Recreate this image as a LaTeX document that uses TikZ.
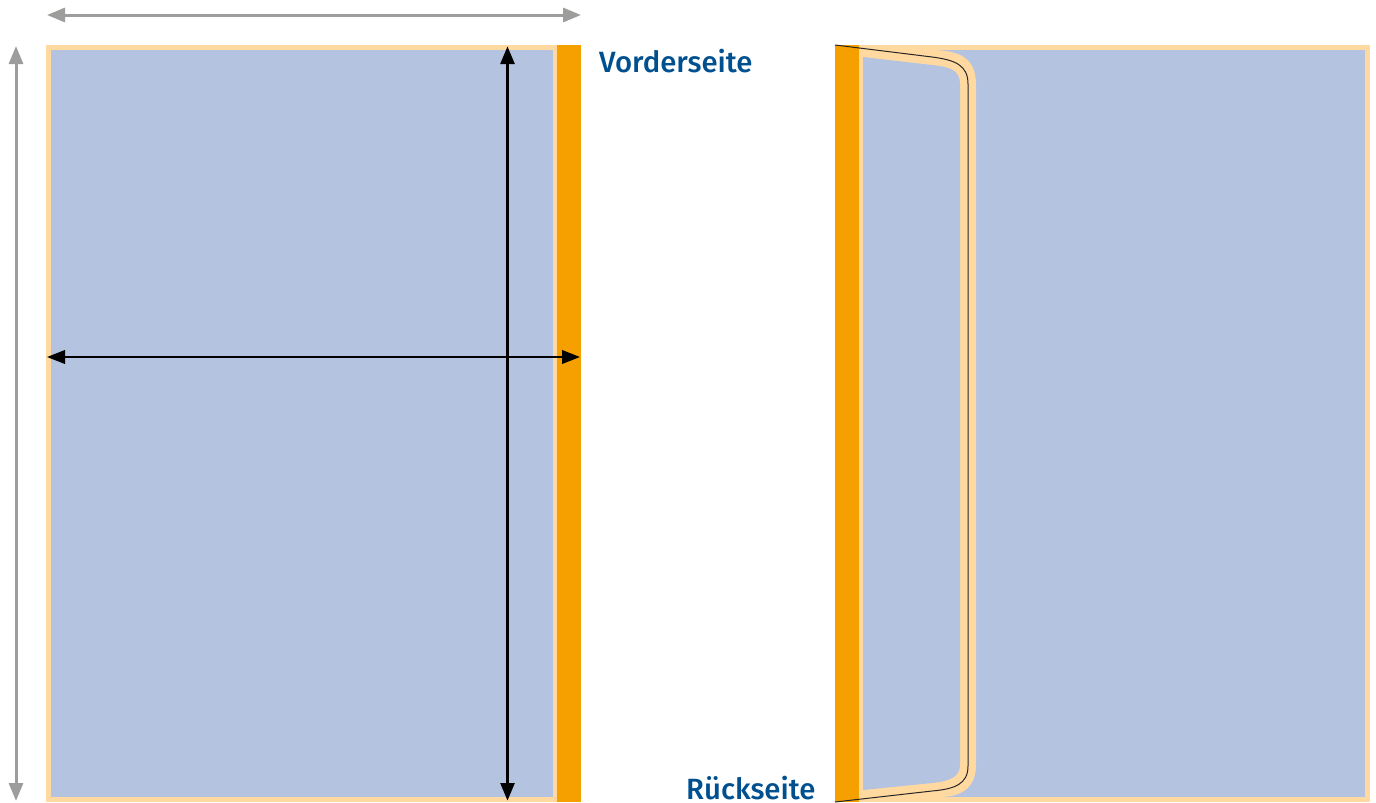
\documentclass[tikz,border=0pt]{standalone}
\usepackage{fontspec}
\setmainfont{Fira Sans}[UprightFont=* Medium,BoldFont=* Medium]
\usetikzlibrary{arrows.meta}
\definecolor{creamc}{HTML}{FFD9A0}
\definecolor{bluec}{HTML}{B3C3E0}
\definecolor{orangec}{HTML}{F6A000}
\definecolor{greyc}{HTML}{9D9D9C}
\definecolor{textc}{HTML}{004F8F}
\tikzset{
  x=1pt,y=-1pt,
  cream/.style={fill=creamc,draw=none},
  paper/.style={fill=bluec,draw=none},
  spine/.style={fill=orangec,draw=none},
  greyarrow/.style={draw=greyc,line width=3pt,{Triangle[length=18pt,width=14pt]}-{Triangle[length=18pt,width=14pt]}},
  blackv/.style={draw=black,line width=3.8pt,{Triangle[length=18pt,width=13.5pt]}-{Triangle[length=18pt,width=13.5pt]}},
  blackh/.style={draw=black,line width=2.2pt,{Triangle[length=18pt,width=13.5pt]}-{Triangle[length=18pt,width=13.5pt]}},
  label/.style={text=textc,font=\fontsize{29.3}{30}\selectfont,inner sep=0pt,anchor=base west},
  fold/.style={draw=black!85,line width=1pt},
}
\begin{document}
\begin{tikzpicture}
\useasboundingbox (0,0) rectangle (1376,803);
% front
\fill[cream] (46,45) rectangle (557,802);
\fill[paper] (51,50) rectangle (553,797);
\fill[spine] (557,45) rectangle (581,802);
% back
\fill[cream] (859,45) rectangle (1370,802);
\fill[paper] (863,50) rectangle (1365,797);
\fill[cream] (859,45) -- (930,50) .. controls (960,50) and (976,58) .. (976,85)
  -- (976,765) .. controls (976,787) and (962,797) .. (940,797) -- (859,797) -- cycle;
\fill[paper] (863,57) -- (932,65) .. controls (950,67) and (960,70) .. (960,84)
  -- (960,764) .. controls (960,776) and (952,781) .. (932,783) -- (863,790) -- cycle;
\fill[spine] (835,45) rectangle (859,802);
\draw[fold] (835,45) -- (932,57) .. controls (955,60) and (968,65) .. (968,84)
  -- (968,766) .. controls (968,784) and (955,789) .. (932,791) -- (835,802);
% dimension arrows
\coordinate (gl) at (47,15); \coordinate (gr) at (581,15);
\coordinate (gt) at (16,46); \coordinate (gb) at (16,801);
\coordinate (kt) at (507.5,46); \coordinate (kb) at (507.5,801);
\coordinate (kl) at (47,357); \coordinate (kr) at (580,357);
\draw[greyarrow] (gl) -- (gr);
\draw[greyarrow] (gt) -- (gb);
\draw[blackv] (kt) -- (kb);
\draw[blackh] (kl) -- (kr);
\node[label] (vs) at (599,72) {Vorderseite};
\node[label] (rs) at (686,799) {Rückseite};
\end{tikzpicture}
\end{document}
